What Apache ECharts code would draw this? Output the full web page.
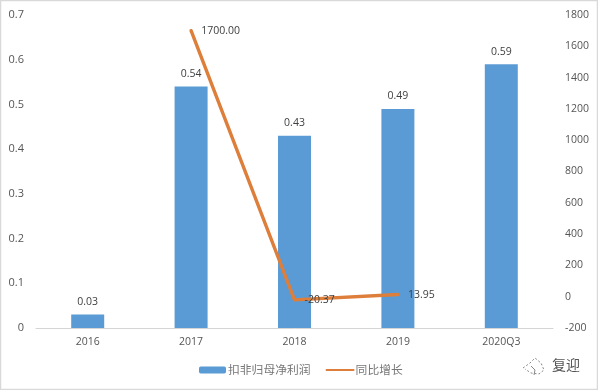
<!DOCTYPE html>
<html><head><meta charset="utf-8">
<style>html,body{margin:0;padding:0;background:#fff}#c{width:598px;height:390px}</style>
<script src="https://cdn.jsdelivr.net/npm/echarts@6/dist/echarts.min.js"></script>
</head><body><div id="c"></div>
<script>
const categories=['2016','2017','2018','2019','2020Q3'];
const barName='扣非归母净利润';
const lineName='同比增长';
const barValues=[0.03,0.54,0.43,0.49,0.59];
const lineValues=[null,1700.00,-20.37,13.95,null];
const leftTicks={min:0,max:0.7,interval:0.1};
const rightTicks={min:-200,max:1800,interval:200};
const font='"Noto Sans CJK SC","Liberation Sans",sans-serif';
const num='"Open Sans","Liberation Sans",sans-serif';
const chart=echarts.init(document.getElementById('c'),null,{renderer:'canvas'});
chart.setOption({
  animation:false,
  backgroundColor:'#fff',
  textStyle:{fontFamily:font},
  grid:{left:36,right:45,top:15,bottom:62},
  legend:{top:364,left:199,padding:0,itemGap:15,itemWidth:27,itemHeight:7,
    textStyle:{color:'#777',fontSize:11.8,fontFamily:font,padding:[0,0,0,-3]},
    data:[{name:barName},{name:lineName,itemStyle:{opacity:0}}]},
  xAxis:{type:'category',data:categories,
    axisLine:{lineStyle:{color:'#d4d4d4'}},axisTick:{show:false},
    axisLabel:{color:'#555',fontSize:10.5,margin:9,fontFamily:num}},
  yAxis:[
    {type:'value',...leftTicks,splitLine:{show:false},axisLine:{show:false},axisTick:{show:false},
     axisLabel:{color:'#555',fontSize:11,margin:12,fontFamily:num,formatter:v=>String(+v.toFixed(1))}},
    {type:'value',...rightTicks,splitLine:{show:false},axisLine:{show:false},axisTick:{show:false},
     axisLabel:{color:'#555',fontSize:10.5,margin:12,fontFamily:num,formatter:v=>String(v)}}
  ],
  series:[
    {name:barName,type:'bar',data:barValues,barWidth:33,itemStyle:{color:'#5B9BD5'},
     label:{show:true,position:'top',distance:7,color:'#404040',fontSize:10.5,fontFamily:num,formatter:p=>p.value.toFixed(2)}},
    {name:lineName,type:'line',yAxisIndex:1,data:lineValues,connectNulls:false,showSymbol:true,symbol:'circle',symbolSize:0.1,
     lineStyle:{color:'#DD7E3A',width:3.4,cap:'round'},itemStyle:{color:'#DD7E3A'},
     label:{show:true,position:'right',distance:10,color:'#404040',fontSize:10.5,fontFamily:num,
       formatter:p=>p.value==null?'':p.value.toFixed(2)}}
  ],
  graphic:[
    {type:'rect',silent:true,z:10,shape:{x:0.5,y:0.5,width:597,height:389},style:{fill:'none',stroke:'#d9d9d9',lineWidth:1.5}},
    {type:'text',left:552,top:358,silent:true,style:{text:'复迎',fill:'#555',fontSize:14,fontFamily:font}},
    {type:'polyline',silent:true,shape:{points:[[523,368],[530,363],[535,358],[541,363],[544,370],[539,374],[531,373],[525,369]]},
      style:{fill:'none',stroke:'#888',lineWidth:1,lineDash:[2,2]}},
    {type:'polyline',silent:true,shape:{points:[[531,366],[535,370],[534,375]]},
      style:{fill:'none',stroke:'#888',lineWidth:1}}
  ]
});
</script></body></html>
